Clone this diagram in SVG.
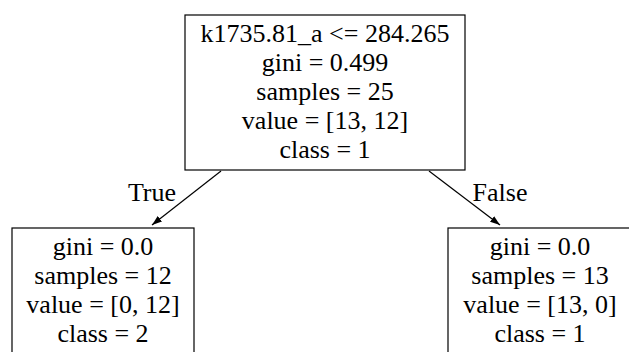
<svg xmlns="http://www.w3.org/2000/svg" width="629" height="352" viewBox="0 0 629 352">
<style>
.box{fill:#fff;stroke:#000;stroke-width:1.2}
.t{font-family:'Liberation Serif','DejaVu Serif','Times New Roman',Times,serif;font-size:26px;fill:#000;text-anchor:middle}
.e{stroke:#000;stroke-width:1.2;fill:none;marker-end:url(#ah)}
</style>
<defs>
<marker id="ah" viewBox="0 0 10 7" refX="10" refY="3.5" markerWidth="10" markerHeight="7" markerUnits="userSpaceOnUse" orient="auto">
<path d="M0,0 L10,3.5 L0,7 z" fill="#000"/>
</marker>
</defs>
<rect width="629" height="352" fill="#fff"/>
<g id="edges">
<line class="e" x1="221" y1="171" x2="152" y2="225"/>
<text class="t" x="152" y="201" font-family="Liberation Serif, serif">True</text>
<line class="e" x1="429" y1="171" x2="500" y2="225"/>
<text class="t" x="500" y="201" font-family="Liberation Serif, serif">False</text>
</g>
<g id="node0">
<rect class="box" x="185" y="15" width="280" height="155"/>
<text class="t" x="325" y="42">k1735.81_a &lt;= 284.265</text>
<text class="t" x="325" y="71">gini = 0.499</text>
<text class="t" x="325" y="100">samples = 25</text>
<text class="t" x="325" y="129">value = [13, 12]</text>
<text class="t" x="325" y="158">class = 1</text>
</g>
<g id="node1">
<rect class="box" x="12" y="228" width="182" height="130"/>
<text class="t" x="103" y="255">gini = 0.0</text>
<text class="t" x="103" y="284">samples = 12</text>
<text class="t" x="103" y="313">value = [0, 12]</text>
<text class="t" x="103" y="342">class = 2</text>
</g>
<g id="node2">
<rect class="box" x="448" y="228" width="184" height="130"/>
<text class="t" x="540" y="255">gini = 0.0</text>
<text class="t" x="540" y="284">samples = 13</text>
<text class="t" x="540" y="313">value = [13, 0]</text>
<text class="t" x="540" y="342">class = 1</text>
</g>
</svg>
